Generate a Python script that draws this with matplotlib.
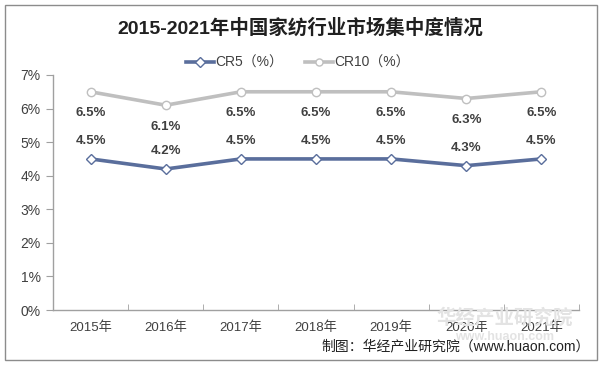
import matplotlib
matplotlib.use("Agg")
import matplotlib.pyplot as plt
from matplotlib.patches import Rectangle
from matplotlib.ticker import FuncFormatter, FixedLocator

plt.rcParams['font.family'] = ['Liberation Sans', 'Noto Sans CJK SC', 'DejaVu Sans']

years = ['2015年', '2016年', '2017年', '2018年', '2019年', '2020年', '2021年']
cr5 = [4.5, 4.2, 4.5, 4.5, 4.5, 4.3, 4.5]
cr10 = [6.5, 6.1, 6.5, 6.5, 6.5, 6.3, 6.5]

W, H = 601, 365
fig = plt.figure(figsize=(W / 100, H / 100), dpi=100)
fig.patches.append(Rectangle((5 / W, 5 / H), 592 / W, 355 / H, transform=fig.transFigure,
                             fill=False, edgecolor='#8c8c8c', linewidth=1.0))

ax = fig.add_axes([53 / W, (H - 310) / H, (579 - 53) / W, (310 - 75) / H])
x = list(range(len(years)))

c5 = '#5a6e9c'
c10 = '#bfbfbf'
ax.plot(x, cr10, color=c10, linewidth=2.6, marker='o', markersize=6,
        markerfacecolor='white', markeredgecolor=c10, markeredgewidth=1.0, label='CR10（%）', zorder=3)
ax.plot(x, cr5, color=c5, linewidth=2.6, marker='D', markersize=5.5,
        markerfacecolor='white', markeredgecolor=c5, markeredgewidth=1.0, label='CR5（%）', zorder=3)

for xi, v in zip(x, cr10):
    ax.annotate(f'{v:.1f}%', (xi, v), xytext=(0, -15.5), textcoords='offset points',
                ha='center', va='center', fontsize=9.5, fontweight='bold', color='#404040')
for xi, v in zip(x, cr5):
    ax.annotate(f'{v:.1f}%', (xi, v), xytext=(0, 13), textcoords='offset points',
                ha='center', va='center', fontsize=9.5, fontweight='bold', color='#404040')

ax.set_xlim(-0.5, len(years) - 0.5)
ax.set_ylim(0, 7)
ax.yaxis.set_major_locator(FixedLocator(range(0, 8)))
ax.yaxis.set_major_formatter(FuncFormatter(lambda v, p: f'{int(v)}%'))
ax.set_xticks(x)
ax.set_xticklabels(years)
ax.xaxis.set_minor_locator(FixedLocator([i + 0.5 for i in range(-1, len(years))]))
ax.tick_params(axis='x', which='major', length=0, pad=8, labelsize=9.5, labelcolor='#404040')
ax.tick_params(axis='x', which='minor', length=4, direction='in', color='#a0a0a0')
ax.tick_params(axis='y', length=5, direction='out', color='#a0a0a0', labelsize=10,
               labelcolor='#404040', pad=4)
for s in ['top', 'right']:
    ax.spines[s].set_visible(False)
for s in ['left', 'bottom']:
    ax.spines[s].set_color('#a0a0a0')
    ax.spines[s].set_linewidth(1.0)

# watermark (behind)
fig.text(505 / W, 1 - 318 / H, '华经产业研究院', ha='center', va='center', fontsize=14,
         fontweight='bold', color='#e3e3e3', zorder=0)
fig.text(505 / W, 1 - 337 / H, 'www.huaon.com', ha='center', va='center', fontsize=9,
         fontweight='bold', color='#e3e3e3', zorder=0)

handles, labels = ax.get_legend_handles_labels()
fig.legend(handles[::-1], labels[::-1], loc='center', bbox_to_anchor=(298 / W, 1 - 63 / H),
           ncol=2, frameon=False, fontsize=10, handlelength=2.0, columnspacing=1.6,
           handletextpad=0.1, labelcolor='#404040', markerscale=0.85)

fig.text(300 / W, 1 - 28 / H, '2015-2021年中国家纺行业市场集中度情况', ha='center', va='center',
         fontsize=14, fontweight='bold', color='#202020')

fig.text(590 / W, 1 - 346 / H, '制图：华经产业研究院（www.huaon.com）', ha='right', va='center',
         fontsize=10, color='#202020')

fig.savefig('out.png', dpi=100)
